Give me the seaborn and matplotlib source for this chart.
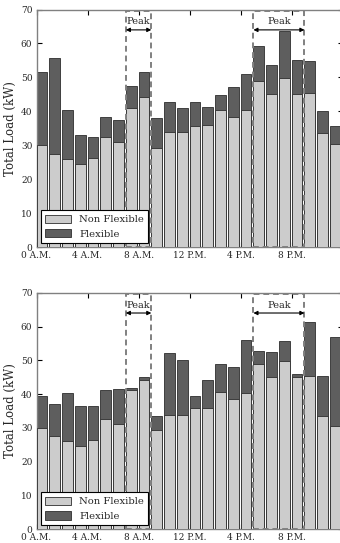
import numpy as np
import pandas as pd
import matplotlib
matplotlib.use("Agg")
import matplotlib.pyplot as plt
from matplotlib.patches import Rectangle, Patch
import seaborn as sns

# ---------------- data ----------------
hours = list(range(24))
tick_hours = [0, 4, 8, 12, 16, 20]
tick_labels = ["0 A.M.", "4 A.M.", "8 A.M.", "12 P.M.", "4 P.M.", "8 P.M."]
yticks = [0, 10, 20, 30, 40, 50, 60, 70]

non_flexible = [30.1, 27.5, 26.1, 24.6, 26.4, 32.6, 31.1, 41.1, 44.2, 29.3, 33.8, 33.8,
                35.8, 35.9, 40.5, 38.5, 40.4, 49.0, 45.0, 49.7, 45.2, 45.5, 33.5, 30.5]
flexible_top = [21.5, 28.3, 14.4, 8.4, 6.1, 5.9, 6.5, 6.4, 7.3, 8.9, 9.1, 7.3,
                7.0, 5.4, 4.2, 8.7, 10.7, 10.4, 8.6, 13.9, 9.8, 9.2, 6.5, 5.1]
flexible_bottom = [9.3, 9.5, 14.2, 11.9, 10.0, 8.5, 10.4, 0.6, 0.8, 4.1, 18.5, 16.3,
                   3.5, 8.3, 8.5, 9.6, 15.5, 3.8, 7.5, 6.0, 0.7, 15.7, 11.9, 26.4]
peak_windows = [(7, 9), (17, 21)]
series_labels = ["Non Flexible", "Flexible"]

# ---------------- style ----------------
sns.set_style("ticks")
plt.rcParams["font.family"] = ["DejaVu Serif"]
plt.rcParams["mathtext.fontset"] = "dejavuserif"

light = "#cccccc"
dark = "#5e5e5e"
edge = "#2e2e2e"
spine_col = "#808080"
bar_w = 0.84

fig = plt.figure(figsize=(3.4, 5.43), dpi=100)
ax_top = fig.add_axes([0.1074, 0.5446, 0.9006, 0.4379])
ax_bot = fig.add_axes([0.1074, 0.0252, 0.9006, 0.4357])

for ax, flex in [(ax_top, flexible_top), (ax_bot, flexible_bottom)]:
    df = pd.DataFrame({"hour": hours, "nonflex": non_flexible, "flex": flex})
    df["total"] = df["nonflex"] + df["flex"]
    df["pos"] = df["hour"] + bar_w / 2
    sns.barplot(data=df, x="pos", y="total", native_scale=True, width=bar_w,
                color=dark, saturation=1, edgecolor=edge, linewidth=0.6,
                errorbar=None, ax=ax, zorder=2)
    sns.barplot(data=df, x="pos", y="nonflex", native_scale=True, width=bar_w,
                color=light, saturation=1, edgecolor=edge, linewidth=0.6,
                errorbar=None, ax=ax, zorder=3)

    ax.set_xlim(0, 24)
    ax.set_ylim(0, 70)
    ax.set_xticks(tick_hours)
    ax.set_xticklabels(tick_labels)
    ax.set_yticks(yticks)
    ax.set_xlabel("")
    ax.set_ylabel("Total Load (kW)", fontsize=8.5, labelpad=2.5)
    ax.tick_params(direction="in", top=True, right=True, length=3.5, width=0.8,
                   labelsize=6.5, color="black", pad=3)
    for sp in ax.spines.values():
        sp.set_visible(True)
        sp.set_color(spine_col)
        sp.set_linewidth(1.0)

    for a, b in peak_windows:
        ax.add_patch(Rectangle((a, 0), b - a, 69.7, fill=False, ls=(0, (3, 2)),
                               ec=spine_col, lw=1.4, zorder=5, clip_on=False))
        ax.annotate("", xy=(a, 64), xytext=(b, 64),
                    arrowprops=dict(arrowstyle="<|-|>", color="black", lw=0.8,
                                    mutation_scale=6, shrinkA=0, shrinkB=0),
                    zorder=6)
        ax.text((a + b) / 2, 65, "Peak", ha="center", va="bottom", fontsize=7,
                zorder=6)

    handles = [Patch(facecolor=light, edgecolor=edge, linewidth=0.6, label=series_labels[0]),
               Patch(facecolor=dark, edgecolor=edge, linewidth=0.6, label=series_labels[1])]
    leg = ax.legend(handles=handles, loc="lower left", fancybox=False,
                    edgecolor="black", framealpha=1, fontsize=7.2,
                    handlelength=2.6, handleheight=0.9, borderaxespad=0.4,
                    labelspacing=0.5, borderpad=0.45)
    leg.get_frame().set_linewidth(0.8)
    leg.set_zorder(10)

fig.savefig("out.png", dpi=100)
